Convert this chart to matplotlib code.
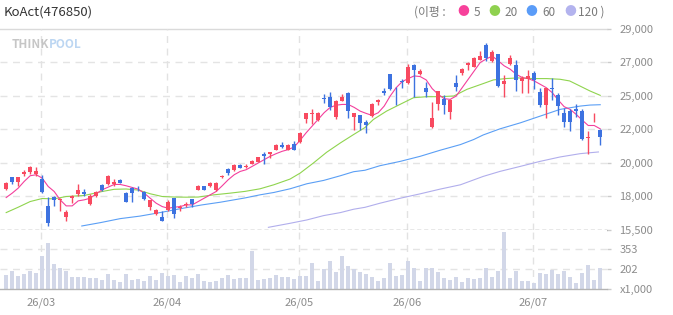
import matplotlib.pyplot as plt
import numpy as np

plt.rcParams['font.family'] = ['Noto Sans CJK KR', 'DejaVu Sans']

# daily candles (price in won)
opens = [18234, 19021, 18706, 19223, 19336, 19223, 18886, 17086, 17694, 17513,
         16343, 17648, 17873, 18031, 17198, 17761, 18458, 18526, 18526, 18841,
         17941, 18256, 18233, 18031, 16996, 16523, 16343, 16816, 17626, 16973,
         17176, 17536, 18166, 18391, 18391, 18121, 18998, 19583, 19471, 19853,
         19696, 19921, 20056, 20596, 20551, 20866, 21181, 20866, 21248, 21361,
         22891, 23251, 22823, 24331, 24421, 23048, 24151, 24646, 23048, 23161,
         22711, 23116, 24061, 24781, 25928, 25028, 25456, 25366, 26536, 25951,
         25028, 22396, 23903, 24241, 23386, 25321, 25996, 26581, 26446, 26896,
         27886, 26828, 27278, 25298, 26626, 26536, 25478, 25636, 26018, 24736,
         23836, 25006, 24556, 23341, 23453, 23566, 23453, 21631, 22958, 22171]
highs = [18684, 19021, 19021, 19471, 19741, 19696, 19178, 17671, 17761, 17603,
         16816, 17806, 18571, 18211, 17896, 18076, 18571, 19133, 18886, 18863,
         17986, 18323, 18391, 18076, 17513, 16883, 16771, 17491, 17648, 17131,
         17378, 17581, 18503, 18436, 18706, 18661, 19178, 19606, 19876, 19876,
         19876, 20146, 20371, 20708, 20731, 21271, 21383, 21248, 21473, 22036,
         23318, 23566, 23386, 24623, 24758, 24173, 24578, 24736, 23318, 23183,
         22846, 23971, 24241, 25028, 25951, 25096, 25591, 26648, 26603, 26266,
         25411, 24061, 24826, 24511, 24286, 25861, 26356, 26761, 27053, 27503,
         27998, 27571, 27301, 25861, 27211, 26873, 25816, 26221, 26153, 25028,
         25028, 25703, 24646, 23656, 23611, 23903, 23566, 22103, 23296, 22261]
lows = [18121, 18526, 18436, 19066, 19246, 19111, 17941, 15758, 17086, 16748,
        16096, 17266, 17761, 17761, 17153, 17671, 18076, 18458, 18436, 18593,
        17356, 17378, 18053, 17491, 16793, 16478, 16073, 16748, 16298, 16726,
        16996, 17041, 18121, 18121, 18346, 18098, 18931, 19178, 19448, 19606,
        19606, 19876, 20011, 19921, 20281, 20821, 20978, 20821, 20843, 21316,
        22621, 22553, 22778, 23971, 23543, 22891, 24106, 22981, 22216, 22216,
        21991, 23071, 23881, 24511, 24893, 23836, 25028, 25253, 24398, 25883,
        24398, 22306, 23521, 23228, 22891, 24781, 25906, 26221, 26401, 26873,
        26828, 26761, 25096, 24398, 26581, 24781, 24668, 24691, 24916, 23746,
        22981, 24196, 23161, 22396, 22103, 23071, 21541, 20596, 22711, 21203]
closes = [18616, 18706, 19021, 19336, 19696, 19426, 17986, 15961, 17491, 17558,
          16681, 17761, 18166, 17873, 17761, 18031, 18121, 19111, 18661, 18638,
          17378, 17941, 18188, 17581, 17491, 16816, 16096, 17356, 16523, 17041,
          17243, 17243, 18436, 18143, 18593, 18616, 19111, 19313, 19853, 19651,
          19786, 20123, 20348, 20416, 20686, 21203, 21068, 21203, 20866, 21991,
          23296, 23341, 23341, 24286, 23701, 24151, 24421, 23453, 23296, 22666,
          22508, 23903, 24196, 24646, 24916, 24983, 25411, 26446, 26221, 26131,
          24736, 23003, 24803, 23836, 24196, 25096, 26266, 26716, 26986, 27166,
          27031, 27391, 25141, 25456, 27008, 25546, 25681, 25838, 25546, 23836,
          25006, 24961, 23791, 22711, 22711, 23453, 21586, 21721, 23003, 21721]
# volume, thousands of shares
volumes = [158, 188, 152, 165, 188, 175, 302, 401, 241, 213,
           188, 145, 145, 145, 132, 137, 120, 165, 120, 105,
           165, 120, 127, 112, 152, 120, 175, 150, 155, 107,
           150, 137, 165, 112, 107, 112, 135, 158, 127, 137,
           137, 340, 120, 127, 137, 158, 142, 142, 127, 150,
           150, 251, 114, 201, 266, 183, 302, 226, 203, 180,
           163, 145, 114, 132, 251, 150, 158, 266, 211, 114,
           211, 211, 183, 132, 120, 142, 104, 135, 130, 135,
           211, 140, 190, 487, 135, 190, 114, 114, 97, 175,
           165, 198, 165, 190, 142, 97, 173, 234, 122, 211]

ma5 = [17648, 17941, 18278, 18728, 19111, 19178, 18953, 18391, 18053, 17491,
       17086, 17086, 17423, 17491, 17603, 17896, 18166, 18346, 18526, 18526,
       18436, 18323, 18211, 17941, 17603, 17266, 17041, 16928, 16996, 17041,
       17153, 17153, 17378, 17603, 17828, 18053, 18436, 18841, 19178, 19400,
       19516, 19741, 19966, 20191, 20416, 20596, 20753, 20866, 21046, 21500,
       22000, 22450, 22900, 23350, 23700, 23850, 23900, 23900, 23700, 23450,
       23296, 23161, 23341, 23791, 24466, 25028, 25433, 25636, 25816, 25771,
       25546, 24961, 24578, 24286, 24241, 24466, 25028, 25591, 26153, 26716,
       26950, 27150, 26828, 26491, 26266, 25928, 25703, 25636, 25478, 25253,
       25028, 24691, 24196, 23746, 23566, 23228, 22846, 22486, 22486, 22261]
ma20_x = [0, 2, 4, 6, 8, 10, 13, 16, 18, 20, 22, 24, 26, 28, 30, 32, 34.6, 37.3,
          39.8, 42.3, 44.6, 47.3, 49, 51.2, 53.4, 55.7, 57.9, 59.8, 61.2, 63.4,
          66.2, 67.9, 70.1, 72.3, 74.6, 76.8, 79.5, 81.2, 83.2, 85.3, 87.9, 90.1,
          92.3, 93.9, 95.6, 97.3, 99]
ma20 = [16636, 16996, 17378, 17581, 17558, 17716, 17783, 18053, 18200, 18220,
        18150, 17900, 17716, 17680, 17671, 17680, 17828, 17941, 18060, 18233,
        18503, 18886, 19291, 19966, 20686, 21316, 21878, 22350, 22891, 23453,
        24016, 24353, 24421, 24421, 24466, 24916, 25300, 25546, 25636, 25681,
        25636, 25636, 25591, 25478, 25141, 24803, 24511]
ma60_x = [12.6, 15.7, 19, 22.3, 25.7, 29, 32.6, 35.7, 39.8, 42.3, 44.6, 47.3, 50.1,
          52.9, 55.7, 57.9, 59.8, 62.3, 65.7, 69, 72.3, 75.7, 77.9, 79.5, 82.3,
          85.7, 89, 92.3, 95.7, 97.3, 99]
ma60 = [15736, 15961, 16230, 16400, 16640, 16895, 17150, 17333, 17620, 17828,
        17986, 18233, 18571, 18796, 19111, 19381, 19480, 19786, 20078, 20416,
        20821, 21203, 21541, 21850, 22261, 22666, 23116, 23566, 23791, 23858, 23881]
ma120_x = [43.7, 47.3, 50.1, 52.9, 55.7, 57.9, 59.8, 62.3, 65.7, 69, 72.3, 75.7,
           79.5, 82.3, 85.7, 89, 92.3, 95.7, 98.7]
ma120 = [15646, 15916, 16141, 16433, 16636, 16861, 16990, 17266, 17603, 17896,
         18211, 18503, 19066, 19403, 19741, 20078, 20371, 20596, 20708]

month_idx = [6, 27, 49, 67, 88]
month_labels = ['26/03', '26/04', '26/05', '26/06', '26/07']
price_ticks = [15500, 17750, 20000, 22250, 24500, 26750, 29000]
price_labels = ['15,500', '18,000', '20,000', '22,000', '25,000', '27,000', '29,000']
vol_ticks = [51, 202, 353]
vol_labels = ['x1,000', '202', '353']

RED = '#f84a60'
BLUE = '#3d72e0'
W, H = 673, 315


def box(x0, y0, x1, y1):
    return [x0 / W, 1 - y1 / H, (x1 - x0) / W, (y1 - y0) / H]


fig = plt.figure(figsize=(6.73, 3.15), dpi=100)
ax = fig.add_axes(box(0, 28.5, 607, 229.5))
axv = fig.add_axes(box(0, 229.5, 607, 289))

n = len(closes)
xs = np.arange(n)
xlim = (-1.03, 100.13)

# moving averages
ax.plot(ma120_x, ma120, color='#b1aeec', lw=0.8, zorder=2)
ax.plot(ma60_x, ma60, color='#5b9ff5', lw=0.8, zorder=2)
ax.plot(ma20_x, ma20, color='#8fd44e', lw=0.8, zorder=2)
ax.plot(xs, ma5, color='#f43f9c', lw=0.8, zorder=2)

# candles
for i in range(n):
    o, h, l, c = opens[i], highs[i], lows[i], closes[i]
    col = RED if c >= o else BLUE
    ax.vlines(i, l, h, color=col, lw=1, zorder=3)
    ax.bar(i, max(abs(c - o), 45), bottom=min(o, c), width=0.75, color=col,
           lw=0, zorder=4)

ax.set_xlim(*xlim)
ax.set_ylim(15500, 29000)
for s in ax.spines.values():
    s.set_visible(False)
for t in price_ticks[1:-1]:
    ax.axhline(t, color='#e4e4e4', lw=1, ls=(0, (5, 4)), zorder=1)
ax.axhline(29000, color='#dadada', lw=1, clip_on=False, zorder=1)
ax.axhline(15500, color='#8e8e8e', lw=1, ls=(0, (3, 2)), clip_on=False, zorder=5)
for m in month_idx:
    ax.axvline(m - 0.25, color='#e2e2e2', lw=1, ls=(0, (5, 4)), zorder=1)
ax.set_xticks([])
ax.yaxis.tick_right()
ax.set_yticks(price_ticks)
ax.set_yticklabels(price_labels)
ax.tick_params(axis='y', length=3, width=1, color='#cccccc', pad=6,
               labelsize=8, labelcolor='#8c8c8c')

# volume
axv.bar(xs, volumes, width=0.72, color='#d2d7e8', lw=0, zorder=2)
axv.set_xlim(*xlim)
axv.set_ylim(51, 504)
for s in axv.spines.values():
    s.set_visible(False)
for t in vol_ticks[1:]:
    axv.axhline(t, color='#e4e4e4', lw=1, ls=(0, (5, 4)), zorder=1)
axv.axhline(51, color='#b4b4b4', lw=1, clip_on=False, zorder=3)
for m in month_idx:
    axv.axvline(m - 0.25, color='#e2e2e2', lw=1, ls=(0, (5, 4)), zorder=1)
axv.yaxis.tick_right()
axv.set_yticks(vol_ticks)
axv.set_yticklabels(vol_labels)
axv.tick_params(axis='y', length=3, width=1, color='#cccccc', pad=6,
                labelsize=8, labelcolor='#8c8c8c')
axv.set_xticks([m - 0.25 for m in month_idx])
axv.set_xticklabels(month_labels)
axv.tick_params(axis='x', length=0, pad=6, labelsize=8, labelcolor='#8c8c8c')

# header
fig.text(4 / W, 1 - 12 / H, 'KoAct(476850)', fontsize=9.5, color='#333333',
         va='center', ha='left')
wm = fig.text(12 / W, 1 - 44 / H, 'THINK', fontsize=8.5, fontweight='bold',
              color='#c6c6c6', va='center', ha='left')
fig.canvas.draw()
bb = wm.get_window_extent()
fig.text(bb.x1 / W, 1 - 44 / H, 'POOL', fontsize=8.5, fontweight='bold',
         color='#bcd6f2', va='center', ha='left')

legend_parts = [(414, '(이평 :', '#7a7a7a'), (457, '●', '#f7419b'), (474, '5', '#7a7a7a'),
                (488, '●', '#8fd14f'), (504, '20', '#7a7a7a'), (525, '●', '#5a9cf8'),
                (542, '60', '#7a7a7a'), (564, '●', '#b3b3ee'), (578, '120 )', '#7a7a7a')]
for x, s, col in legend_parts:
    fig.text(x / W, 1 - 12 / H, s, fontsize=8.5, color=col, va='center', ha='left')

fig.savefig('out.png', dpi=100)
